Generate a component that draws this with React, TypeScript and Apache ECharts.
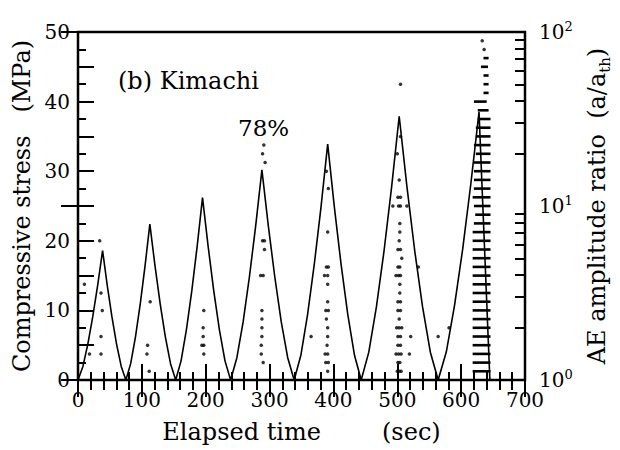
import React, { useEffect, useRef } from "react";
import * as echarts from "echarts";

// Stress curve (elapsed time in sec, compressive stress in MPa)
const stressTime = [
  0, 7.7, 15.4, 23.1, 30.8, 38.5, 45.8, 53.1, 60.4, 67.7, 75,
  82.5, 90, 97.5, 105, 112.5, 120.6, 128.7, 136.8, 144.9, 153,
  161.4, 169.8, 178.2, 186.6, 195, 203.8, 212.6, 221.4, 230.2, 239,
  248.8, 258.6, 268.4, 278.2, 288, 298.1, 308.2, 318.3, 328.4, 338.5,
  349, 359.5, 370, 380.5, 391, 401.5, 412, 422.5, 433, 443.5,
  455.4, 467.3, 479.2, 491.1, 503, 515.2, 527.4, 539.6, 551.8, 564,
  576.8, 589.6, 602.4, 615.2, 628, 645,
];
const stressMPa = [
  0, 1.95, 5.15, 9.1, 13.6, 18.6, 13.6, 9.1, 5.15, 1.95, 0,
  2.35, 6.2, 10.95, 16.4, 22.4, 16.4, 10.95, 6.2, 2.35, 0,
  2.75, 7.25, 12.8, 19.2, 26.2, 19.2, 12.8, 7.25, 2.75, 0,
  3.2, 8.35, 14.8, 22.1, 30.2, 22.1, 14.8, 8.35, 3.2, 0,
  3.55, 9.4, 16.6, 24.8, 33.9, 24.8, 16.6, 9.4, 3.55, 0,
  4.0, 10.5, 18.5, 27.7, 37.9, 27.7, 18.5, 10.5, 4.0, 0,
  4.05, 10.7, 18.8, 28.2, 38.5, 0,
];

// AE events: time (sec) and amplitude level (dB above threshold, 20 dB = one decade of a/a_th)
const aeTime = [
  34, 10, 36, 38, 36, 18, 36,
  113, 109, 108, 111.5,
  197, 196, 196, 194, 197, 197,
  291, 289, 293, 289, 292, 292, 286, 290, 288, 288, 288, 288, 287, 287, 290,
  389, 392, 391, 389, 392, 386, 391, 391, 391, 388, 392, 389, 391, 391, 365, 390, 387, 391, 388, 392, 391,
  505, 505, 500, 503, 501, 505, 493, 502, 505, 515, 504, 504, 503, 501, 505, 507, 533, 501, 504, 498, 502,
  505, 504, 504, 501, 505, 501, 505, 503, 499, 503, 507, 501, 505, 521, 564, 581, 501, 505, 498, 502, 506,
  519, 501, 504, 500, 503, 506,
  633, 636,
];
const aeDb = [
  16, 11, 10, 8, 5, 3, 3,
  9, 4, 3, 1,
  8, 6, 5, 4, 4, 3,
  27, 26, 25, 16, 16, 15, 12, 12, 8, 7, 6, 5, 4, 3, 2,
  24, 22, 17, 13, 13, 12, 12, 11, 9, 8, 8, 7, 6, 5, 5, 4, 3, 3, 2, 2, 1,
  34, 28, 26, 23, 21, 21, 20, 20, 20, 20, 18, 17, 16, 15, 15, 14, 13, 13, 13, 12, 12,
  12, 11, 10, 9, 9, 8, 8, 7, 6, 6, 6, 5, 5, 5, 5, 6, 4, 4, 3, 3, 3,
  3, 2, 2, 1, 1, 1,
  39, 38,
];

// Dense AE bursts in the final cycle: each level drawn as a short run of events
const burstDb = [
  37, 36, 35, 34, 33, 32, 31, 30, 29, 28, 27, 26, 25, 24, 23, 22, 21, 20, 19,
  18, 17, 16, 15, 14, 13, 12, 11, 10, 9, 8, 7, 6, 5, 4, 3, 2, 1,
];
const burstStart = [
  635, 631, 635, 635, 635, 620, 626, 626, 623, 623, 620, 623, 620, 620, 620, 620, 618, 620, 622,
  620, 618, 618, 618, 618, 618, 618, 618, 618, 618, 618, 618, 618, 618, 618, 618, 618, 618,
];
const burstEnd = [
  643, 642, 643, 643, 643, 640, 643, 646, 646, 646, 646, 646, 646, 646, 646, 646, 646, 646, 646,
  646, 646, 646, 646, 646, 646, 646, 646, 646, 646, 646, 646, 646, 646, 646, 646, 646, 646,
];

const rightTickLabels = ["0", "1", "2"]; // exponents of 10 at 0, 20, 40 dB
const minorLogFactors = [2, 3, 4, 5, 6, 7, 8, 9];

const FONT = "DejaVu Serif";

export default function App() {
  const ref = useRef<HTMLDivElement>(null);

  useEffect(() => {
    if (!ref.current) return;
    const chart = echarts.init(ref.current, null, { renderer: "svg" });

    const minorDb: number[] = [];
    [0, 20].forEach((base) =>
      minorLogFactors.forEach((k) => minorDb.push(base + 20 * Math.log10(k)))
    );

    const labelStyle = { color: "#000", fontFamily: FONT, fontSize: 20 };
    const nameStyle = { color: "#000", fontFamily: FONT, fontSize: 24 };
    const tickLine = () => ({ color: "#000", width: 2 });

    const option: any = {
      animation: false,
      backgroundColor: "#fff",
      grid: {
        left: 78,
        right: 92,
        top: 32,
        bottom: 70,
        containLabel: false,
        show: true,
        borderColor: "#000",
        borderWidth: 2.5,
        backgroundColor: "transparent",
      },
      xAxis: [
        {
          type: "value",
          position: "bottom",
          min: 0,
          max: 700,
          interval: 100,
          axisLine: { show: false },
          axisTick: { show: true, inside: true, length: 16, lineStyle: tickLine() },
          minorTick: { show: true, splitNumber: 5, length: 8, lineStyle: tickLine() },
          splitLine: { show: false },
          axisLabel: { ...labelStyle, margin: 10 },
          name: "Elapsed time\u00A0\u00A0\u00A0\u00A0\u00A0\u00A0\u00A0\u00A0(sec)",
          nameLocation: "middle",
          nameGap: 40,
          nameTextStyle: nameStyle,
        },
        {
          type: "value",
          position: "top",
          min: 0,
          max: 700,
          interval: 100,
          axisLine: { show: false },
          axisTick: { show: true, inside: true, length: 17, lineStyle: tickLine() },
          minorTick: { show: true, splitNumber: 5, length: 10, lineStyle: tickLine() },
          splitLine: { show: false },
          axisLabel: { show: false },
        },
      ],
      yAxis: [
        {
          type: "value",
          position: "left",
          min: 0,
          max: 50,
          interval: 5,
          axisLine: { show: false },
          axisTick: { show: true, inside: true, length: 16, lineStyle: tickLine() },
          minorTick: { show: true, splitNumber: 2, length: 8, lineStyle: tickLine() },
          splitLine: { show: false },
          axisLabel: {
            ...labelStyle,
            margin: 8,
            formatter: (v: number) => (v % 10 === 0 ? String(v) : ""),
          },
          name: "Compressive stress\u00A0\u00A0\u00A0(MPa)",
          nameLocation: "middle",
          nameRotate: 90,
          nameGap: 44,
          nameTextStyle: nameStyle,
        },
        {
          type: "value",
          position: "right",
          min: 0,
          max: 40,
          interval: 20,
          axisLine: { show: false },
          axisTick: { show: true, inside: true, length: 17, lineStyle: tickLine() },
          splitLine: { show: false },
          axisLabel: {
            color: "#000",
            fontFamily: FONT,
            margin: 14,
            formatter: (v: number) => `{b|10}{s|${rightTickLabels[Math.round(v / 20)]}}`,
            rich: {
              b: { fontFamily: FONT, fontSize: 20, color: "#000", lineHeight: 24 },
              s: { fontFamily: FONT, fontSize: 13, color: "#000", lineHeight: 14, verticalAlign: "top" },
            },
          },
          name: "{n|AE amplitude ratio\u00A0\u00A0(a/a}{t|th}{n|)}",
          nameLocation: "middle",
          nameRotate: 90,
          nameGap: 57,
          nameTextStyle: {
            ...nameStyle,
            rich: {
              n: { fontFamily: FONT, fontSize: 24, color: "#000", lineHeight: 30 },
              t: { fontFamily: FONT, fontSize: 15, color: "#000", lineHeight: 16, verticalAlign: "bottom" },
            },
          },
        },
        {
          type: "value",
          position: "right",
          min: 0,
          max: 40,
          axisLine: { show: false },
          axisLabel: { show: false },
          splitLine: { show: false },
          axisTick: {
            show: true,
            inside: true,
            length: 10,
            customValues: minorDb,
            lineStyle: tickLine(),
          },
        },
      ],
      graphic: [
        {
          type: "text",
          left: 118,
          top: 69,
          style: { text: "(b) Kimachi", font: `24px '${FONT}'`, fill: "#000" },
        },
        {
          type: "text",
          left: 238,
          top: 116,
          style: { text: "78%", font: `23px '${FONT}'`, fill: "#000" },
        },
      ],
      series: [
        {
          type: "scatter",
          xAxisIndex: 0,
          yAxisIndex: 1,
          symbol: "circle",
          symbolSize: 3.5,
          itemStyle: { color: "#000" },
          data: aeTime.map((t, i) => [t, aeDb[i]]),
          z: 3,
        },
        {
          type: "custom",
          xAxisIndex: 0,
          yAxisIndex: 1,
          encode: { x: [0, 1], y: 2 },
          data: burstDb.map((d, i) => [burstStart[i], burstEnd[i], d]),
          renderItem: (_params: any, api: any) => {
            const a = api.coord([api.value(0), api.value(2)]);
            const b = api.coord([api.value(1), api.value(2)]);
            return {
              type: "line",
              shape: { x1: a[0], y1: a[1], x2: b[0], y2: b[1] },
              style: { stroke: "#000", lineWidth: 2.6 },
            };
          },
          z: 3,
        },
        {
          type: "line",
          xAxisIndex: 0,
          yAxisIndex: 0,
          showSymbol: false,
          symbol: "none",
          lineStyle: { color: "#000", width: 1.6 },
          data: stressTime.map((t, i) => [t, stressMPa[i]]),
          z: 4,
        },
      ],
    };

    chart.setOption(option);
    return () => chart.dispose();
  }, []);

  return (
    <div
      ref={ref}
      style={{ position: "fixed", left: 0, top: 0, width: 620, height: 450, background: "#fff" }}
    />
  );
}
